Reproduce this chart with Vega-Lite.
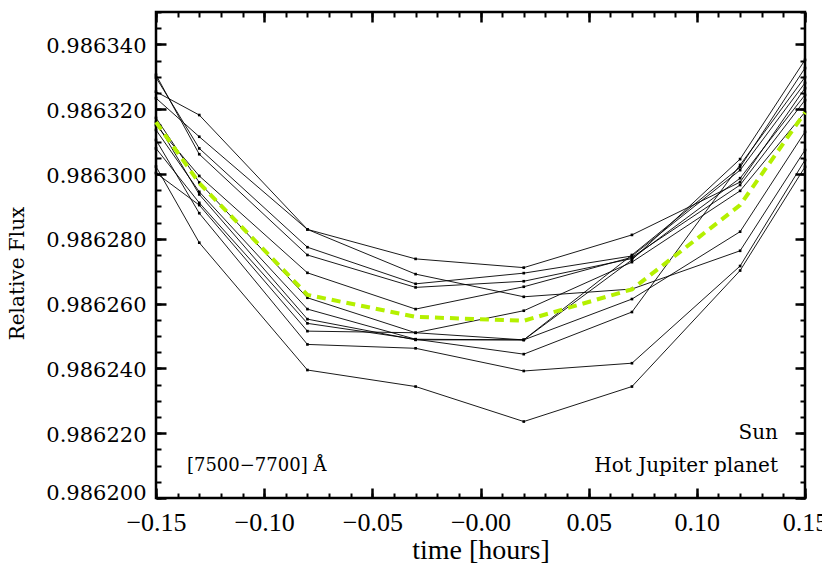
{
  "$schema": "https://vega.github.io/schema/vega-lite/v6.json",
  "width": 649,
  "height": 486,
  "autosize": {"type": "none"},
  "padding": {"left": 156, "top": 12, "right": 17, "bottom": 89},
  "background": "white",
  "config": {
    "view": {"stroke": "black", "strokeWidth": 2.5},
    "axis": {"domain": false, "grid": false, "tickColor": "black", "labelColor": "black", "titleColor": "black"}
  },
  "datasets": {
    "curves": [
      {"s":"A","t":-0.15,"flux":0.9863023},{"s":"A","t":-0.13,"flux":0.9862788},{"s":"A","t":-0.08,"flux":0.9862395},{"s":"A","t":-0.03,"flux":0.9862344},{"s":"A","t":0.02,"flux":0.9862236},{"s":"A","t":0.07,"flux":0.9862344},{"s":"A","t":0.12,"flux":0.9862702},{"s":"A","t":0.15,"flux":0.9863022},
      {"s":"B","t":-0.15,"flux":0.9863105},{"s":"B","t":-0.13,"flux":0.9862879},{"s":"B","t":-0.08,"flux":0.9862474},{"s":"B","t":-0.03,"flux":0.9862462},{"s":"B","t":0.02,"flux":0.9862392},{"s":"B","t":0.07,"flux":0.9862416},{"s":"B","t":0.12,"flux":0.9862716},{"s":"B","t":0.15,"flux":0.9863043},
      {"s":"C","t":-0.15,"flux":0.9863234},{"s":"C","t":-0.13,"flux":0.9863115},{"s":"C","t":-0.08,"flux":0.9862829},{"s":"C","t":-0.03,"flux":0.9862738},{"s":"C","t":0.02,"flux":0.9862711},{"s":"C","t":0.07,"flux":0.9862812},{"s":"C","t":0.12,"flux":0.9862975},{"s":"C","t":0.15,"flux":0.9863265},
      {"s":"D","t":-0.15,"flux":0.9863254},{"s":"D","t":-0.13,"flux":0.9863182},{"s":"D","t":-0.08,"flux":0.9862829},{"s":"D","t":-0.03,"flux":0.9862691},{"s":"D","t":0.02,"flux":0.9862621},{"s":"D","t":0.07,"flux":0.9862645},{"s":"D","t":0.12,"flux":0.9862763},{"s":"D","t":0.15,"flux":0.9863074},
      {"s":"E","t":-0.15,"flux":0.9863298},{"s":"E","t":-0.13,"flux":0.9863079},{"s":"E","t":-0.08,"flux":0.9862774},{"s":"E","t":-0.03,"flux":0.9862661},{"s":"E","t":0.02,"flux":0.9862694},{"s":"E","t":0.07,"flux":0.9862747},{"s":"E","t":0.12,"flux":0.9863012},{"s":"E","t":0.15,"flux":0.9863281},
      {"s":"F","t":-0.15,"flux":0.9863306},{"s":"F","t":-0.13,"flux":0.9863061},{"s":"F","t":-0.08,"flux":0.986275},{"s":"F","t":-0.03,"flux":0.986265},{"s":"F","t":0.02,"flux":0.9862669},{"s":"F","t":0.07,"flux":0.9862739},{"s":"F","t":0.12,"flux":0.9862987},{"s":"F","t":0.15,"flux":0.9863244},
      {"s":"G","t":-0.15,"flux":0.9863151},{"s":"G","t":-0.13,"flux":0.9862994},{"s":"G","t":-0.08,"flux":0.9862695},{"s":"G","t":-0.03,"flux":0.9862583},{"s":"G","t":0.02,"flux":0.9862652},{"s":"G","t":0.07,"flux":0.9862743},{"s":"G","t":0.12,"flux":0.9862966},{"s":"G","t":0.15,"flux":0.9863228},
      {"s":"H","t":-0.15,"flux":0.9863173},{"s":"H","t":-0.13,"flux":0.9862974},{"s":"H","t":-0.08,"flux":0.9862618},{"s":"H","t":-0.03,"flux":0.986251},{"s":"H","t":0.02,"flux":0.9862578},{"s":"H","t":0.07,"flux":0.9862728},{"s":"H","t":0.12,"flux":0.9862948},{"s":"H","t":0.15,"flux":0.9863191},
      {"s":"I","t":-0.15,"flux":0.9863136},{"s":"I","t":-0.13,"flux":0.9862945},{"s":"I","t":-0.08,"flux":0.9862583},{"s":"I","t":-0.03,"flux":0.986249},{"s":"I","t":0.02,"flux":0.9862488},{"s":"I","t":0.07,"flux":0.9862735},{"s":"I","t":0.12,"flux":0.9863046},{"s":"I","t":0.15,"flux":0.9863352},
      {"s":"J","t":-0.15,"flux":0.9863161},{"s":"J","t":-0.13,"flux":0.9862937},{"s":"J","t":-0.08,"flux":0.9862552},{"s":"J","t":-0.03,"flux":0.9862488},{"s":"J","t":0.02,"flux":0.9862488},{"s":"J","t":0.07,"flux":0.986275},{"s":"J","t":0.12,"flux":0.9863021},{"s":"J","t":0.15,"flux":0.9863327},
      {"s":"K","t":-0.15,"flux":0.9863079},{"s":"K","t":-0.13,"flux":0.9862911},{"s":"K","t":-0.08,"flux":0.9862539},{"s":"K","t":-0.03,"flux":0.986249},{"s":"K","t":0.02,"flux":0.9862444},{"s":"K","t":0.07,"flux":0.9862574},{"s":"K","t":0.12,"flux":0.9863028},{"s":"K","t":0.15,"flux":0.9863299},
      {"s":"L","t":-0.15,"flux":0.9863003},{"s":"L","t":-0.13,"flux":0.9862904},{"s":"L","t":-0.08,"flux":0.9862515},{"s":"L","t":-0.03,"flux":0.986251},{"s":"L","t":0.02,"flux":0.9862488},{"s":"L","t":0.07,"flux":0.9862614},{"s":"L","t":0.12,"flux":0.9862822},{"s":"L","t":0.15,"flux":0.986313}
    ],
    "mean": [
      {"t":-0.15,"flux":0.986316},{"t":-0.13,"flux":0.9862972},{"t":-0.08,"flux":0.9862627},{"t":-0.03,"flux":0.9862559},{"t":0.02,"flux":0.9862547},{"t":0.07,"flux":0.9862644},{"t":0.12,"flux":0.9862904},{"t":0.15,"flux":0.986319}
    ],
    "notesLeft": [
      {"label":"[7500−7700] Å","t":-0.1357,"flux":0.98621}
    ],
    "notesRight": [
      {"label":"Sun","t":0.1375,"flux":0.98622},
      {"label":"Hot Jupiter planet","t":0.1375,"flux":0.98621}
    ]
  },
  "resolve": {"axis": {"x": "independent", "y": "independent"}},
  "layer": [
    {
      "data": {"name": "curves"},
      "mark": {"type": "line", "color": "black", "strokeWidth": 0.9, "point": {"shape": "square", "size": 7, "filled": true, "color": "black"}},
      "encoding": {
        "x": {"field": "t", "type": "quantitative", "scale": {"domain": [-0.15, 0.15], "nice": false, "zero": false},
          "axis": {"orient": "bottom", "values": [-0.15, -0.1, -0.05, 0, 0.05, 0.1, 0.15], "tickSize": -10, "tickWidth": 2.5,
            "labelFont": "Liberation Serif", "labelFontSize": 26, "labelPadding": 21, "labelFlush": false, "labelOverlap": false,
            "labelExpr": "abs(datum.value) < 1e-9 ? '−0.00' : format(datum.value, '.2f')",
            "title": "time [hours]", "titleFont": "Liberation Serif", "titleFontSize": 28, "titleFontWeight": "normal",
            "titleY": 60, "titleBaseline": "alphabetic"}},
        "y": {"field": "flux", "type": "quantitative", "scale": {"domain": [0.9862, 0.98635], "nice": false, "zero": false},
          "axis": {"orient": "left", "values": [0.9862, 0.98622, 0.98624, 0.98626, 0.98628, 0.9863, 0.98632, 0.98634], "tickSize": -10, "tickWidth": 2.5,
            "format": ".6f", "labelFont": "DejaVu Serif", "labelFontSize": 21, "labelPadding": 20, "labelFlush": false,
            "labelOffset": {"condition": {"test": "datum.value < 0.986201", "value": -5}, "value": 2}, "labelOverlap": false,
            "title": "Relative Flux", "titleFont": "DejaVu Serif", "titleFontSize": 20, "titleFontWeight": "normal",
            "titleX": -139, "titleY": 261, "titleBaseline": "middle", "titleAlign": "center", "titleAngle": 270}},
        "detail": {"field": "s", "type": "nominal"}
      }
    },
    {
      "data": {"name": "mean"},
      "mark": {"type": "line", "color": "#b4f000", "strokeWidth": 4, "strokeDash": [9, 6]},
      "encoding": {
        "x": {"field": "t", "type": "quantitative",
          "axis": {"orient": "top", "values": [-0.15, -0.1, -0.05, 0, 0.05, 0.1, 0.15], "tickSize": -10, "tickWidth": 2.5, "labels": false, "title": null}},
        "y": {"field": "flux", "type": "quantitative",
          "axis": {"orient": "right", "values": [0.9862, 0.98622, 0.98624, 0.98626, 0.98628, 0.9863, 0.98632, 0.98634], "tickSize": -10, "tickWidth": 2.5, "labels": false, "title": null}}
      }
    },
    {
      "data": {"name": "notesLeft"},
      "mark": {"type": "text", "font": "DejaVu Serif", "fontSize": 18, "color": "black", "align": "left", "baseline": "middle"},
      "encoding": {
        "x": {"field": "t", "type": "quantitative",
          "axis": {"orient": "bottom", "values": [-0.15,-0.14,-0.13,-0.12,-0.11,-0.1,-0.09,-0.08,-0.07,-0.06,-0.05,-0.04,-0.03,-0.02,-0.01,0,0.01,0.02,0.03,0.04,0.05,0.06,0.07,0.08,0.09,0.1,0.11,0.12,0.13,0.14,0.15], "tickSize": -5, "tickWidth": 2, "labels": false, "title": null}},
        "y": {"field": "flux", "type": "quantitative",
          "axis": {"orient": "left", "values": [0.9862,0.986205,0.98621,0.986215,0.98622,0.986225,0.98623,0.986235,0.98624,0.986245,0.98625,0.986255,0.98626,0.986265,0.98627,0.986275,0.98628,0.986285,0.98629,0.986295,0.9863,0.986305,0.98631,0.986315,0.98632,0.986325,0.98633,0.986335,0.98634,0.986345,0.98635], "tickSize": -5, "tickWidth": 2, "labels": false, "title": null}},
        "text": {"field": "label", "type": "nominal"}
      }
    },
    {
      "data": {"name": "notesRight"},
      "mark": {"type": "text", "font": "DejaVu Serif", "fontSize": 20, "color": "black", "align": "right", "baseline": "middle"},
      "encoding": {
        "x": {"field": "t", "type": "quantitative",
          "axis": {"orient": "top", "values": [-0.15,-0.14,-0.13,-0.12,-0.11,-0.1,-0.09,-0.08,-0.07,-0.06,-0.05,-0.04,-0.03,-0.02,-0.01,0,0.01,0.02,0.03,0.04,0.05,0.06,0.07,0.08,0.09,0.1,0.11,0.12,0.13,0.14,0.15], "tickSize": -5, "tickWidth": 2, "labels": false, "title": null}},
        "y": {"field": "flux", "type": "quantitative",
          "axis": {"orient": "right", "values": [0.9862,0.986205,0.98621,0.986215,0.98622,0.986225,0.98623,0.986235,0.98624,0.986245,0.98625,0.986255,0.98626,0.986265,0.98627,0.986275,0.98628,0.986285,0.98629,0.986295,0.9863,0.986305,0.98631,0.986315,0.98632,0.986325,0.98633,0.986335,0.98634,0.986345,0.98635], "tickSize": -5, "tickWidth": 2, "labels": false, "title": null}},
        "text": {"field": "label", "type": "nominal"}
      }
    }
  ]
}
